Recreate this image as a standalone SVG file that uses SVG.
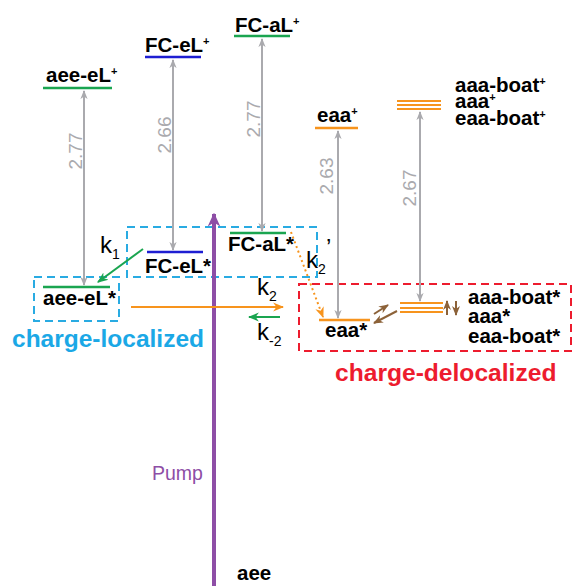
<svg xmlns="http://www.w3.org/2000/svg" width="572" height="586" viewBox="0 0 572 586">
<style>
.lbl{font-family:"Liberation Sans",Arial,Helvetica,sans-serif;font-weight:bold;font-size:20.5px;fill:#000}
.sup{font-size:11px}
.num{font-family:"Liberation Sans",Arial,Helvetica,sans-serif;font-size:19px;fill:#aaaaae}
.k{font-family:"Liberation Sans",Arial,Helvetica,sans-serif;font-size:24px;fill:#000}
.ks{font-size:14px}
.lvl{stroke-width:2.5;fill:none}
.green{stroke:#1aa550}
.blue{stroke:#1e1ed2}
.orange{stroke:#f7941d}
.gray{stroke:#aaaaae;stroke-width:2;fill:none;marker-start:url(#ag);marker-end:url(#ag)}
.box{fill:none;stroke-width:2;stroke-dasharray:8 5}
</style>
<defs>
<marker id="ag" viewBox="0 0 10 10" refX="9" refY="5" markerWidth="9" markerHeight="9" orient="auto-start-reverse" markerUnits="userSpaceOnUse"><path d="M0,1 L10,5 L0,9 L3,5 z" fill="#aaaaae"/></marker>
<marker id="agr" viewBox="0 0 10 10" refX="9" refY="5" markerWidth="11" markerHeight="11" orient="auto" markerUnits="userSpaceOnUse"><path d="M0,1 L10,5 L0,9 L3,5 z" fill="#1aa550"/></marker>
<marker id="aor" viewBox="0 0 10 10" refX="9" refY="5" markerWidth="11" markerHeight="11" orient="auto" markerUnits="userSpaceOnUse"><path d="M0,1 L10,5 L0,9 L3,5 z" fill="#f7941d"/></marker>
<marker id="abr" viewBox="0 0 10 10" refX="9" refY="5" markerWidth="10" markerHeight="10" orient="auto" markerUnits="userSpaceOnUse"><path d="M0,1 L10,5 L0,9 L3,5 z" fill="#8c6239"/></marker>
<marker id="apu" viewBox="0 0 10 10" refX="9" refY="5" markerWidth="14" markerHeight="14" orient="auto" markerUnits="userSpaceOnUse"><path d="M0,0.5 L10,5 L0,9.5 L3,5 z" fill="#8e4ea6"/></marker>
</defs>

<!-- region boxes -->
<g id="regions">
<rect class="box" x="34" y="277" width="85" height="44" stroke="#29abe2"/>
<rect class="box" x="127" y="227" width="190" height="50" stroke="#29abe2"/>
<rect class="box" x="299" y="284" width="272" height="67" stroke="#ed1c2e"/>
<text x="12" y="347" font-family="'Liberation Sans',Arial,Helvetica,sans-serif" font-weight="bold" font-size="24.5" fill="#1ba8e6">charge-localized</text>
<text x="335" y="381" font-family="'Liberation Sans',Arial,Helvetica,sans-serif" font-weight="bold" font-size="24.6" fill="#ed1c2e">charge-delocalized</text>
</g>

<!-- cation levels -->
<g id="aee-eL-plus">
<line class="lvl green" x1="43" y1="88" x2="112" y2="88"/>
<text class="lbl" x="46" y="82">aee-eL<tspan class="sup" dy="-7">+</tspan></text>
</g>
<g id="FC-eL-plus">
<line class="lvl blue" x1="145" y1="57" x2="201" y2="57"/>
<text class="lbl" x="145" y="52">FC-eL<tspan class="sup" dy="-7">+</tspan></text>
</g>
<g id="FC-aL-plus">
<line class="lvl green" x1="234" y1="36" x2="290" y2="36"/>
<text class="lbl" x="235" y="32">FC-aL<tspan class="sup" dy="-7">+</tspan></text>
</g>
<g id="eaa-plus">
<line class="lvl orange" x1="315" y1="128" x2="358" y2="128"/>
<text class="lbl" x="317" y="122">eaa<tspan class="sup" dy="-7">+</tspan></text>
</g>
<g id="aaa-group-plus">
<line class="orange" stroke-width="2" x1="397" y1="101" x2="441" y2="101"/>
<line class="orange" stroke-width="2" x1="397" y1="105" x2="441" y2="105"/>
<line class="orange" stroke-width="2" x1="397" y1="109" x2="441" y2="109"/>
<text class="lbl"><tspan x="455" y="92">aaa-boat</tspan><tspan class="sup" dy="-7">+</tspan><tspan x="455" y="108">aaa</tspan><tspan class="sup" dy="-7">+</tspan><tspan x="455" y="125">eaa-boat</tspan><tspan class="sup" dy="-7">+</tspan></text>
</g>

<!-- excited state levels -->
<g id="aee-eL-star">
<line class="lvl green" x1="43" y1="287" x2="110" y2="287"/>
<text class="lbl" x="43" y="305">aee-eL*</text>
</g>
<g id="FC-eL-star">
<line class="lvl blue" x1="147" y1="252" x2="203" y2="252"/>
<text class="lbl" x="145" y="273">FC-eL*</text>
</g>
<g id="FC-aL-star">
<line class="lvl green" x1="230" y1="233" x2="286" y2="233"/>
<text class="lbl" x="228" y="251">FC-aL*</text>
</g>
<g id="eaa-star">
<line class="lvl orange" x1="319" y1="320" x2="370" y2="320"/>
<text class="lbl" x="325" y="337">eaa*</text>
</g>
<g id="aaa-group-star">
<line class="orange" stroke-width="2" x1="400" y1="303" x2="443" y2="303"/>
<line class="orange" stroke-width="2" x1="400" y1="308" x2="443" y2="308"/>
<line class="orange" stroke-width="2" x1="400" y1="312" x2="443" y2="312"/>
<text class="lbl"><tspan x="468" y="304">aaa-boat*</tspan><tspan x="468" y="323">aaa*</tspan><tspan x="468" y="343">eaa-boat*</tspan></text>
</g>
<g id="aee">
<text class="lbl" x="237" y="580">aee</text>
</g>

<!-- connectors -->
<g id="connectors">
<line class="gray" x1="84" y1="91" x2="84" y2="285"/>
<line class="gray" x1="173" y1="60" x2="173" y2="250"/>
<line class="gray" x1="262" y1="39" x2="262" y2="231"/>
<line class="gray" x1="338" y1="131" x2="338" y2="318"/>
<line class="gray" x1="420" y1="112" x2="420" y2="301"/>
<text class="num" transform="translate(82,151) rotate(-90)" text-anchor="middle">2.77</text>
<text class="num" transform="translate(171,135) rotate(-90)" text-anchor="middle">2.66</text>
<text class="num" transform="translate(260,119) rotate(-90)" text-anchor="middle">2.77</text>
<text class="num" transform="translate(333,176) rotate(-90)" text-anchor="middle">2.63</text>
<text class="num" transform="translate(416,188) rotate(-90)" text-anchor="middle">2.67</text>

<line x1="214" y1="586" x2="214" y2="214" stroke="#8e4ea6" stroke-width="4" marker-end="url(#apu)"/>
<text x="152" y="480" font-family="'Liberation Sans',Arial,Helvetica,sans-serif" font-size="19.5" fill="#8e4ea6">Pump</text>

<line x1="143" y1="249" x2="98" y2="282" stroke="#1aa550" stroke-width="2" marker-end="url(#agr)"/>
<line x1="131" y1="307" x2="283" y2="307" stroke="#f7941d" stroke-width="2" marker-end="url(#aor)"/>
<line x1="280" y1="317" x2="249" y2="317" stroke="#1aa550" stroke-width="2" marker-end="url(#agr)"/>
<line x1="291" y1="232" x2="323" y2="317" stroke="#f7941d" stroke-width="2" stroke-dasharray="2 3" marker-end="url(#aor)"/>

<line x1="374" y1="314" x2="388" y2="305" stroke="#8c6239" stroke-width="2" marker-end="url(#abr)"/>
<line x1="397" y1="311" x2="374" y2="323" stroke="#8c6239" stroke-width="2" marker-end="url(#abr)"/>
<line x1="447" y1="315" x2="447" y2="301" stroke="#8c6239" stroke-width="2" marker-end="url(#abr)"/>
<line x1="456" y1="301" x2="456" y2="315" stroke="#8c6239" stroke-width="2" marker-end="url(#abr)"/>

<text class="k" x="100" y="253">k<tspan class="ks" dy="6">1</tspan></text>
<text class="k" x="257" y="295">k<tspan class="ks" dy="6">2</tspan></text>
<text class="k" x="257" y="340">k<tspan class="ks" dy="6">-2</tspan></text>
<text class="k" x="306" y="268">k<tspan class="ks" dy="6">2</tspan><tspan x="326" y="256">’</tspan></text>
</g>
</svg>
